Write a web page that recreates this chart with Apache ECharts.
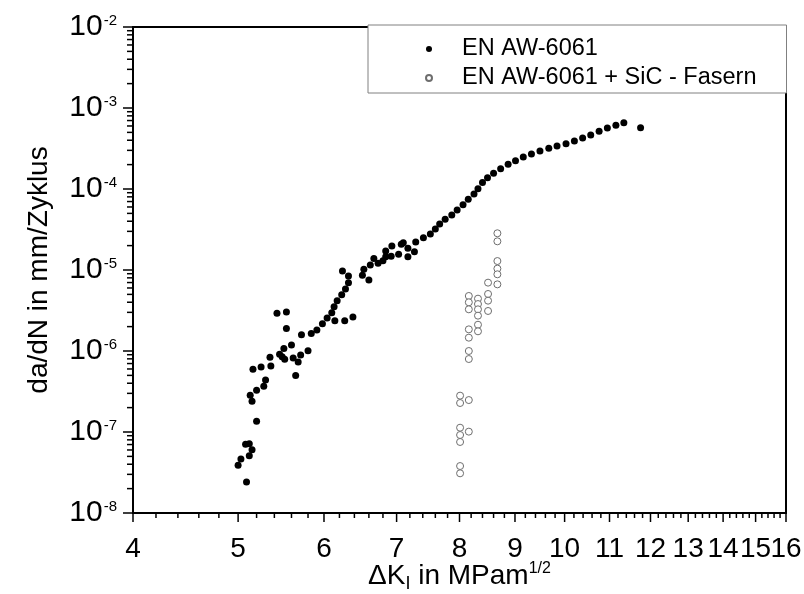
<!DOCTYPE html>
<html><head><meta charset="utf-8">
<script src="https://cdn.jsdelivr.net/npm/echarts@6/dist/echarts.min.js"></script>
<style>html,body{margin:0;padding:0;background:#fff}#c{width:804px;height:594px}</style>
</head><body><div id="c"></div>
<script>
const seriesNames = ['EN AW-6061', 'EN AW-6061 + SiC - Fasern'];

// EN AW-6061 (filled dots): ΔK and da/dN
const alloyDK = [5.09,5.00,5.03,5.12,5.15,5.08,5.12,5.20,5.15,5.13,5.20,5.28,5.30,5.16,5.25,5.36,5.35,5.46,5.51,5.52,5.49,5.60,5.62,5.68,5.71,5.65,5.80,5.72,5.43,5.54,5.54,
  5.84,5.91,5.98,6.04,6.14,6.27,6.38,6.10,6.13,6.17,6.23,6.28,6.32,6.32,6.24,6.53,6.51,6.60,6.62,6.67,6.73,
  6.80,6.84,6.84,6.92,6.93,7.03,7.07,7.10,7.17,7.17,7.27,7.29,7.41,7.52,7.60,7.67,7.76,7.87,7.96,8.06,8.15,8.25,8.32,
  8.40,8.49,8.60,8.73,8.87,9.01,9.16,9.32,9.49,9.67,9.84,10.03,10.21,10.39,10.57,10.76,10.95,11.15,11.34,11.75];
const alloyRate = [2.42e-8,3.88e-8,4.64e-8,5.1e-8,6.04e-8,7.05e-8,7.17e-8,1.36e-7,2.39e-7,2.84e-7,3.27e-7,3.66e-7,4.38e-7,5.94e-7,6.34e-7,6.53e-7,8.36e-7,9.1e-7,1.07e-6,7.9e-7,8.5e-7,1.19e-6,8.2e-7,7.3e-7,8.9e-7,5.0e-7,1.01e-6,1.59e-6,2.92e-6,3.03e-6,1.89e-6,
  1.64e-6,1.82e-6,2.17e-6,2.55e-6,2.37e-6,2.37e-6,2.63e-6,2.97e-6,3.52e-6,4.18e-6,4.96e-6,5.82e-6,6.97e-6,8.43e-6,9.7e-6,1.02e-5,8.6e-6,7.5e-6,1.15e-5,1.39e-5,1.21e-5,
  1.30e-5,1.46e-5,1.72e-5,1.48e-5,1.98e-5,1.56e-5,2.08e-5,2.17e-5,1.85e-5,1.46e-5,1.68e-5,2.22e-5,2.51e-5,2.78e-5,3.21e-5,3.70e-5,4.23e-5,4.77e-5,5.51e-5,6.41e-5,7.45e-5,8.67e-5,1.01e-4,
  1.20e-4,1.38e-4,1.56e-4,1.78e-4,2.02e-4,2.24e-4,2.48e-4,2.70e-4,2.94e-4,3.18e-4,3.40e-4,3.63e-4,3.92e-4,4.26e-4,4.64e-4,5.15e-4,5.66e-4,6.11e-4,6.59e-4,5.71e-4];

// EN AW-6061 + SiC fibres (hollow circles)
const compDK = [8.67,8.67,8.67,8.67,8.67,8.67, 8.50,8.50,8.50,8.50, 8.32,8.32,8.32,8.32,8.32,8.32,
  8.16,8.16,8.16,8.16,8.16,8.16,8.16,8.16,8.16, 8.01,8.01,8.01,8.01,8.01,8.01,8.01];
const compRate = [2.84e-5,2.26e-5,1.29e-5,1.04e-5,8.85e-6,6.65e-6, 6.98e-6,5.06e-6,4.18e-6,3.12e-6, 4.43e-6,3.80e-6,3.27e-6,2.73e-6,2.11e-6,1.75e-6,
  4.78e-6,3.99e-6,3.27e-6,1.85e-6,1.46e-6,1.0e-6,7.96e-7,2.48e-7,1.01e-7, 2.81e-7,2.28e-7,1.13e-7,9.18e-8,7.53e-8,3.80e-8,3.09e-8];

const xTickLabels = [4,5,6,7,8,9,10,11,12,13,14,15,16];
const xMinorTicks = [4.2,4.4,4.6,4.8,5.2,5.4,5.6,5.8,6.2,6.4,6.6,6.8,7.2,7.4,7.6,7.8,8.2,8.4,8.6,8.8,9.2,9.4,9.6,9.8,
  10.2,10.4,10.6,10.8,11.2,11.4,11.6,11.8,12.2,12.4,12.6,12.8,13.2,13.4,13.6,13.8,14.2,14.4,14.6,14.8,15.2,15.4,15.6,15.8];
const yMinorFactors = [2,3,4,5,6,7,8,9];
const yDecades = [-8,-7,-6,-5,-4,-3];

const X_MIN = 4, X_MAX = 16, Y_MIN = 1e-8, Y_MAX = 1e-2;
const FONT = '"Liberation Sans", Arial, sans-serif';

const zip = (a, b) => a.map((v, i) => [v, b[i]]);
const xTickData = xTickLabels.map(v => [v, Y_MIN, 1]).concat(xMinorTicks.map(v => [v, Y_MIN, 0]));
const yMinorData = [];
yDecades.forEach(e => yMinorFactors.forEach(f => yMinorData.push([X_MIN, Number((f * Math.pow(10, e)).toPrecision(3))])));

const chart = echarts.init(document.getElementById('c'), null, {renderer: 'canvas'});
chart.setOption({
  animation: false,
  backgroundColor: '#fff',
  textStyle: {fontFamily: FONT},
  grid: {left: 133, right: 18, top: 27, bottom: 81, show: true, borderColor: '#000', borderWidth: 2, backgroundColor: 'transparent',
         containLabel: false, outerBoundsMode: 'none'},
  legend: {
    orient: 'vertical', left: 368, top: 25,
    data: seriesNames,
    padding: [12, 30, 3, 57],
    itemGap: 5, itemWidth: 56, itemHeight: 6,
    borderColor: '#808080', borderWidth: 1, backgroundColor: '#fff',
    textStyle: {fontSize: 23.5, fontFamily: FONT, color: '#000'},
    selectedMode: false
  },
  xAxis: {
    type: 'log', logBase: 10, min: X_MIN, max: X_MAX,
    axisLine: {show: true, lineStyle: {color: '#000', width: 2}},
    axisTick: {show: false}, axisLabel: {show: false}, splitLine: {show: false}, minorTick: {show: false},
    name: '{n|ΔK}{sub|I}{n| in MPam}{sup|1/2}',
    nameLocation: 'middle', nameGap: 46,
    nameTextStyle: {
      fontFamily: FONT, color: '#000',
      rich: {
        n: {fontSize: 28, lineHeight: 34, fontFamily: FONT, color: '#000'},
        sub: {fontSize: 18, lineHeight: 18, verticalAlign: 'bottom', fontFamily: FONT, color: '#000'},
        sup: {fontSize: 16, lineHeight: 16, verticalAlign: 'top', padding: [2, 0, 0, 0], fontFamily: FONT, color: '#000'}
      }
    }
  },
  yAxis: {
    type: 'log', logBase: 10, min: Y_MIN, max: Y_MAX,
    axisLine: {show: true, lineStyle: {color: '#000', width: 2}},
    axisTick: {show: true, length: 10, lineStyle: {color: '#000', width: 1.5}},
    splitLine: {show: false}, minorTick: {show: false},
    axisLabel: {
      margin: 16, color: '#000',
      formatter: v => '{b|10}{s|' + Math.round(Math.log10(v)) + '}',
      rich: {
        b: {fontSize: 30, lineHeight: 30, fontFamily: FONT, color: '#000'},
        s: {fontSize: 15, lineHeight: 15, verticalAlign: 'top', padding: [1, 0, 0, 1], fontFamily: FONT, color: '#000'}
      }
    },
    name: 'da/dN in mm/Zyklus', nameLocation: 'middle', nameGap: 80,
    nameTextStyle: {fontSize: 28, fontFamily: FONT, color: '#000'}
  },
  series: [
    {
      name: seriesNames[0], type: 'scatter', data: zip(alloyDK, alloyRate),
      symbol: 'circle', symbolSize: 7, itemStyle: {color: '#000', opacity: 1}, z: 3
    },
    {
      name: seriesNames[1], type: 'scatter', data: zip(compDK, compRate),
      symbol: 'circle', symbolSize: 7, itemStyle: {color: '#fff', borderColor: '#6e6e6e', borderWidth: 1, opacity: 1}, z: 3
    },
    {
      name: 'xticks', type: 'custom', silent: true, clip: false, z: 4,
      data: xTickData,
      renderItem: (params, api) => {
        const p = api.coord([api.value(0), api.value(1)]);
        const major = api.value(2) === 1;
        const children = [{type: 'line', shape: {x1: p[0], y1: p[1], x2: p[0], y2: p[1] + (major ? 9 : 5)}, style: {stroke: '#000', lineWidth: 1.5}}];
        if (major) children.push({type: 'text', style: {text: String(api.value(0)), x: p[0], y: p[1] + 22, align: 'center', verticalAlign: 'top', fontSize: 28, fontFamily: FONT, fill: '#000'}});
        return {type: 'group', children};
      }
    },
    {
      name: 'yminor', type: 'custom', silent: true, clip: false, z: 4,
      data: yMinorData,
      renderItem: (params, api) => {
        const p = api.coord([api.value(0), api.value(1)]);
        return {type: 'line', shape: {x1: p[0] - 6, y1: p[1], x2: p[0], y2: p[1]}, style: {stroke: '#000', lineWidth: 1.5}};
      }
    }
  ]
});
</script></body></html>
